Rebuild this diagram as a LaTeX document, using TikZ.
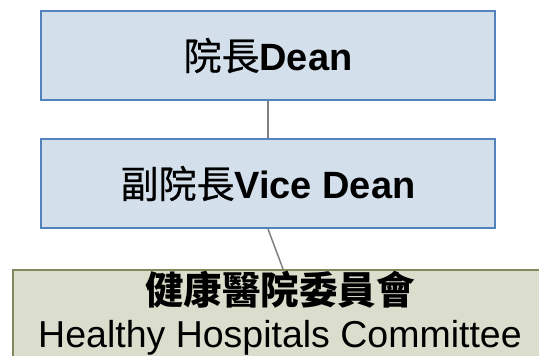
\documentclass[tikz,border=0pt]{standalone}
\usepackage{fontspec}
\setmainfont{Liberation Sans}
\newfontfamily\cjk{Noto Sans CJK TC}
\newfontfamily\cjkmid[FakeBold=0.6]{Noto Sans CJK TC}
\definecolor{bluefill}{RGB}{211,223,235}
\definecolor{blueline}{RGB}{84,132,190}
\definecolor{olivefill}{RGB}{219,221,205}
\definecolor{oliveline}{RGB}{128,138,92}
\definecolor{connline}{RGB}{128,128,128}
\tikzset{
  deanbox/.style={draw=blueline, fill=bluefill, line width=2pt, minimum width=454pt, minimum height=89pt, inner sep=0pt, font=\fontsize{38}{42}\selectfont},
  hhcbox/.style={draw=oliveline, fill=olivefill, line width=2pt, minimum width=560pt, minimum height=140pt, inner sep=0pt, anchor=north west},
  conn/.style={draw=connline, line width=1.5pt},
  plain/.style={inner sep=0pt}
}
\begin{document}
\begin{tikzpicture}[x=1pt,y=-1pt]
\useasboundingbox (0,0) rectangle (539,356);
\node[deanbox] (dean) at (268,55.5) {{\cjkmid 院長}\textbf{Dean}};
\node[deanbox] (vice) at (268,183.5) {{\cjkmid 副院長}\textbf{Vice Dean}};
\node[hhcbox] (hhc) at (11.5,269) {};
\coordinate (hhcin) at (283,269);
\node[plain, font=\fontsize{38.5}{42}\selectfont\cjk\bfseries] (hhczh) at (280,290) {健康醫院委員會};
\node[plain, anchor=base, font=\fontsize{37.5}{40}\selectfont] (hhcen) at (280,347) {Healthy Hospitals Committee};
\draw[conn] (dean.south) -- (vice.north);
\draw[conn] (vice.south) -- (hhcin);
\end{tikzpicture}
\end{document}
